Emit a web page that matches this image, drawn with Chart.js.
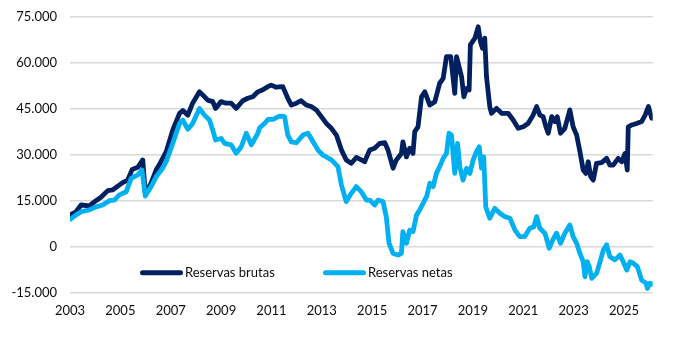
<!DOCTYPE html>
<html lang="es">
<head>
<meta charset="UTF-8">
<title>Reservas brutas y netas</title>
<style>
  body{margin:0;background:#fff}
  #wrap{width:680px;height:340px}
</style>
</head>
<body>
<div id="wrap"><canvas id="grafico" width="680" height="340"></canvas></div>

<script src="https://cdn.jsdelivr.net/npm/chart.js@4.4.0/dist/chart.umd.min.js"></script>
<script>
/* ---------- Datos (millones de USD) ---------- */
const fechasBrutas = [
  2003.00,2003.24,2003.44,2003.77,2004.03,2004.23,2004.50,2004.69,2005.09,2005.29,
  2005.47,2005.69,2005.89,2005.99,2006.22,2006.42,2006.55,2006.82,2007.08,2007.35,
  2007.48,2007.68,2007.87,2008.14,2008.27,2008.47,2008.67,2008.78,2009.00,2009.20,
  2009.40,2009.60,2009.86,2010.06,2010.26,2010.46,2010.66,2010.86,2010.99,2011.19,
  2011.45,2011.65,2011.79,2011.99,2012.18,2012.38,2012.58,2012.78,2012.98,2013.18,
  2013.38,2013.58,2013.78,2013.97,2014.17,2014.37,2014.57,2014.70,2014.90,2015.10,
  2015.30,2015.50,2015.63,2015.83,2015.96,2016.16,2016.22,2016.36,2016.49,2016.62,
  2016.69,2016.82,2016.96,2017.09,2017.29,2017.49,2017.68,2017.82,2017.95,2018.12,
  2018.28,2018.35,2018.55,2018.64,2018.75,2018.85,2018.90,2019.08,2019.21,2019.30,
  2019.38,2019.47,2019.54,2019.67,2019.74,2019.94,2020.14,2020.40,2020.60,2020.80,
  2021.00,2021.19,2021.39,2021.53,2021.66,2021.79,2021.90,2021.99,2022.13,2022.26,
  2022.35,2022.48,2022.65,2022.85,2022.98,2023.12,2023.25,2023.38,2023.49,2023.58,
  2023.68,2023.78,2023.91,2024.11,2024.31,2024.44,2024.57,2024.77,2024.91,2025.04,
  2025.13,2025.17,2025.31,2025.50,2025.70,2025.84,2025.97,2026.10
];
const reservasBrutas = [
  10300,11400,13600,13300,15000,16100,18300,18500,20900,21700,
  25200,25900,28300,17400,20700,25000,26800,31000,38000,43500,
  44400,42900,46800,50500,49500,47800,47300,45100,47300,46800,
  46800,45100,47600,48400,48900,50500,51200,52200,52700,52000,
  52200,48400,46200,46800,47600,46200,45700,44600,42400,40200,
  38600,36400,31500,28300,27200,29100,28300,27700,31500,32100,
  33700,33900,31500,25600,28300,30400,34200,29300,32100,30400,
  37500,39100,48900,50500,46200,47300,53300,54900,62000,62000,
  50000,62000,55400,48900,51600,51100,65800,68000,71700,66800,
  64700,68000,55400,45700,43500,45100,43500,43500,41300,38600,
  39100,40200,42900,45700,42900,42400,39100,37000,42400,40800,
  42400,37000,38600,44600,39100,36400,31000,25000,23900,27700,
  22800,21700,27200,27400,28800,26600,26600,28800,27700,30400,
  25000,39100,39700,40200,40800,42900,45700,41900
];

const fechasNetas = [
  2003.00,2003.24,2003.44,2003.77,2004.03,2004.30,2004.56,2004.76,2004.96,2005.23,
  2005.43,2005.69,2005.86,2005.99,2006.22,2006.42,2006.68,2006.83,2007.08,2007.35,
  2007.48,2007.68,2007.87,2008.14,2008.34,2008.54,2008.67,2008.78,2009.00,2009.14,
  2009.40,2009.60,2009.80,2010.00,2010.20,2010.46,2010.53,2010.73,2010.86,2011.06,
  2011.32,2011.52,2011.65,2011.79,2011.99,2012.25,2012.45,2012.65,2012.85,2013.04,
  2013.38,2013.64,2013.78,2013.97,2014.17,2014.37,2014.57,2014.77,2014.90,2015.10,
  2015.23,2015.43,2015.56,2015.67,2015.83,2016.03,2016.16,2016.22,2016.36,2016.49,
  2016.62,2016.76,2016.89,2017.02,2017.16,2017.29,2017.42,2017.55,2017.68,2017.82,
  2017.95,2018.05,2018.15,2018.28,2018.39,2018.48,2018.61,2018.75,2018.88,2019.01,
  2019.14,2019.25,2019.34,2019.43,2019.51,2019.67,2019.87,2020.07,2020.27,2020.47,
  2020.67,2020.86,2021.06,2021.26,2021.42,2021.53,2021.66,2021.86,2022.03,2022.17,
  2022.32,2022.48,2022.65,2022.85,2022.98,2023.12,2023.25,2023.38,2023.45,2023.54,
  2023.62,2023.72,2023.91,2024.05,2024.18,2024.31,2024.44,2024.64,2024.84,2024.97,
  2025.11,2025.24,2025.37,2025.53,2025.70,2025.88,2025.93,2026.03,2026.14
];
const reservasNetas = [
  8900,10300,11400,12000,13000,13600,15000,15200,16900,17900,
  22300,23400,25000,16500,19600,22800,25600,28000,33700,40200,
  41300,38300,40200,45100,42900,41300,38000,34800,35300,33700,
  33200,30500,32600,37000,33200,37000,38800,40200,41500,41500,
  42600,42400,36400,34200,33900,36400,37000,34200,31500,29900,
  28300,26100,20100,14700,17400,19600,17900,15200,15200,13600,
  15200,14700,9800,1100,-2200,-2700,-2200,4900,1100,5400,
  4900,10300,12000,14100,16300,20700,19600,23900,26100,28800,
  30400,37000,36400,23900,33700,26000,21700,25600,23900,28300,
  31000,32600,25600,29300,13000,9300,12500,10900,9800,9300,
  5400,3300,3300,6000,6500,9800,6000,4400,-500,2200,
  4400,1100,4400,7100,3300,1100,-2200,-4900,-9800,-4900,
  -6500,-10300,-8700,-4900,-1100,600,-3300,-4300,-2700,-4900,
  -7600,-4900,-5400,-6500,-10900,-11900,-13600,-11900,-12200
];

const aniosEje = [2003,2005,2007,2009,2011,2013,2015,2017,2019,2021,2023,2025];
const series = ['Reservas brutas', 'Reservas netas'];
const colores = ['#002060', '#00b0f0'];

/* ---------- Leyenda dentro del área del gráfico ---------- */
const leyenda = {
  id: 'leyenda',
  afterDatasetsDraw(chart){
    const {ctx, chartArea} = chart;
    const y = chartArea.bottom - 20;
    const desde = [70, 253];                 // desplazamiento desde el borde izquierdo
    ctx.save();
    ctx.font = '13px Lato';
    ctx.textBaseline = 'middle';
    ctx.fillStyle = '#0d0d0d';
    chart.data.datasets.forEach((ds, i) => {
      const x0 = chartArea.left + desde[i];
      ctx.strokeStyle = ds.borderColor;
      ctx.lineWidth = 5;
      ctx.lineCap = 'round';
      ctx.beginPath();
      ctx.moveTo(x0 + 2.5, y); ctx.lineTo(x0 + 40.5, y);
      ctx.stroke();
      ctx.fillText(ds.label, x0 + 45, y);
    });
    ctx.restore();
  }
};

const puntos = (xs, ys) => xs.map((x, i) => ({x, y: ys[i]}));
const miles = v => (v < 0 ? '-' : '') + String(Math.abs(v)).replace(/\B(?=(\d{3})+(?!\d))/g, '.');

Chart.defaults.font.family = 'Lato';
Chart.defaults.font.size = 13;
Chart.defaults.color = '#0d0d0d';

new Chart(document.getElementById('grafico'), {
  type: 'line',
  data: {
    datasets: [
      {label: series[0], data: puntos(fechasBrutas, reservasBrutas), borderColor: colores[0], order: 1},
      {label: series[1], data: puntos(fechasNetas, reservasNetas), borderColor: colores[1], order: 0}
    ]
  },
  options: {
    responsive: false,
    animation: false,
    parsing: false,
    layout: {padding: {top: 16.7, right: 27.3, left: 0, bottom: 0}},
    elements: {
      line: {borderWidth: 4.8, tension: 0, borderJoinStyle: 'round', borderCapStyle: 'round'},
      point: {radius: 0}
    },
    plugins: {legend: {display: false}, tooltip: {enabled: false}},
    scales: {
      x: {
        type: 'linear', min: 2003, max: 2026.14,
        grid: {display: false, drawTicks: false}, border: {display: false},
        afterBuildTicks: s => { s.ticks = aniosEje.map(v => ({value: v})); },
        afterFit: s => { s.height = 47.3; },
        ticks: {padding: 10, maxRotation: 0, autoSkip: false, callback: v => String(v)}
      },
      y: {
        min: -15000, max: 75000,
        grid: {color: '#d9d9d9', lineWidth: 1.5, drawTicks: false},
        border: {display: false},
        // el margen superior lo fija layout.padding, no las etiquetas
        afterFit: s => { s.width = 70; s.paddingTop = 0; s.paddingBottom = 0; },
        ticks: {stepSize: 15000, padding: 13, callback: v => miles(v)}
      }
    }
  },
  plugins: [leyenda]
});
</script>
</body>
</html>
